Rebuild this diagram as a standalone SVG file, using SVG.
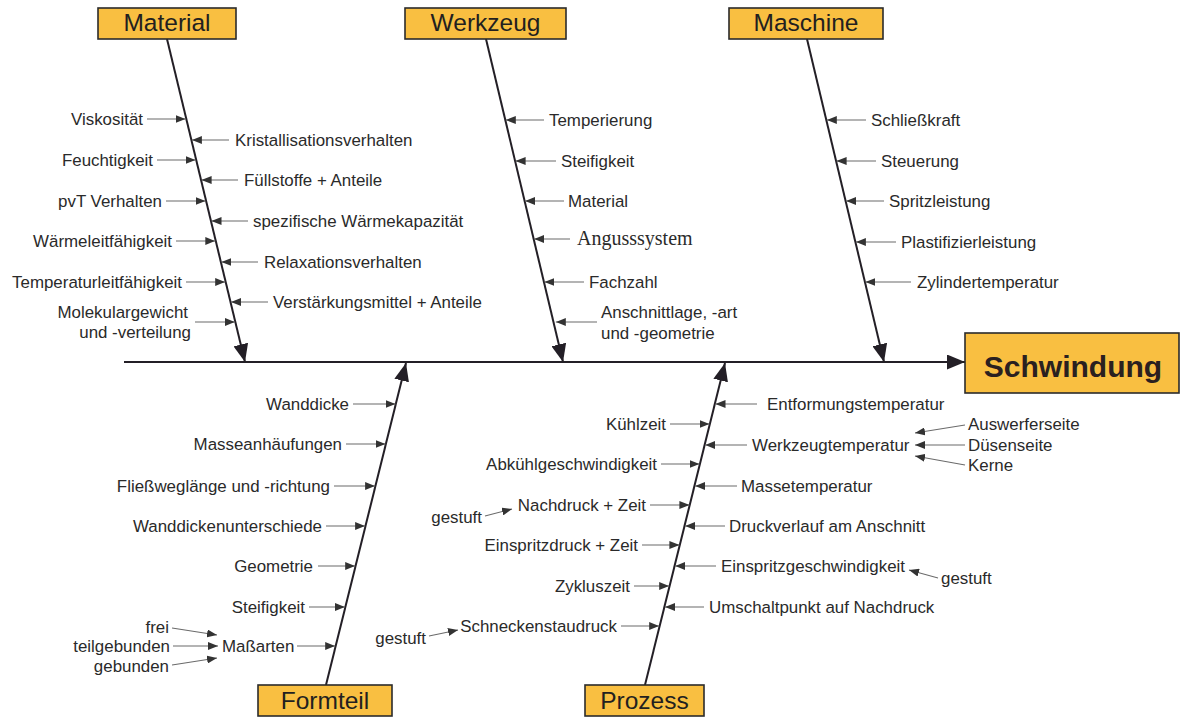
<svg xmlns="http://www.w3.org/2000/svg" width="1181" height="720" viewBox="0 0 1181 720">
  <style>
    .box { fill: #f9bf41; stroke: #2b2b2b; stroke-width: 1.6; }
    .cat { font-family: "Liberation Sans", Arial, sans-serif; font-size: 24.5px; fill: #231f20; text-anchor: middle; }
    .effect { font-family: "Liberation Sans", Arial, sans-serif; font-size: 30px; font-weight: bold; fill: #2a2020; text-anchor: middle; }
    .lbl { font-family: "Liberation Sans", Arial, sans-serif; font-size: 16.9px; fill: #2a2a2a; }
    .serif { font-family: "Liberation Serif", "Times New Roman", serif; font-size: 20px; fill: #2a2a2a; }
    .end { text-anchor: end; }
    .spine { stroke: #231f26; stroke-width: 2; fill: none; marker-end: url(#big); }
    .sub { stroke: #6a6a6a; stroke-width: 1.1; fill: none; marker-end: url(#small); }
  </style>
  <defs>
    <marker id="big" markerUnits="userSpaceOnUse" markerWidth="18" markerHeight="15" refX="18" refY="7.5" orient="auto">
      <path d="M0,0 L18,7.5 L0,15 z" fill="#231f26"/>
    </marker>
    <marker id="small" markerUnits="userSpaceOnUse" markerWidth="10" markerHeight="8" refX="10" refY="4" orient="auto">
      <path d="M0,0 L10,4 L0,8 z" fill="#333"/>
    </marker>
  </defs>

  <rect width="1181" height="720" fill="#ffffff"/>

  <!-- connectors: spines and factor arrows -->
  <g id="connectors">
    <line class="spine" x1="124" y1="362" x2="965" y2="362"/>
    <line class="spine" x1="167" y1="39" x2="245" y2="362"/>
    <line class="spine" x1="486" y1="39" x2="563" y2="362"/>
    <line class="spine" x1="807" y1="39" x2="884" y2="362"/>
    <line class="spine" x1="326" y1="685" x2="406" y2="363"/>
    <line class="spine" x1="645" y1="685" x2="725" y2="363"/>

    <!-- Material -->
    <line class="sub" x1="147" y1="119" x2="185.5" y2="119"/>
    <line class="sub" x1="157" y1="160" x2="195.5" y2="160"/>
    <line class="sub" x1="166" y1="201" x2="205.5" y2="201"/>
    <line class="sub" x1="176" y1="241" x2="215.3" y2="241"/>
    <line class="sub" x1="186" y1="282" x2="225.2" y2="282"/>
    <line class="sub" x1="195" y1="322" x2="234.8" y2="322"/>
    <line class="sub" x1="229" y1="140" x2="191.9" y2="140"/>
    <line class="sub" x1="238" y1="180" x2="201.6" y2="180"/>
    <line class="sub" x1="248" y1="221" x2="211.5" y2="221"/>
    <line class="sub" x1="258" y1="262" x2="221.4" y2="262"/>
    <line class="sub" x1="268" y1="302" x2="231" y2="302"/>

    <!-- Werkzeug -->
    <line class="sub" x1="544" y1="120" x2="505.8" y2="120"/>
    <line class="sub" x1="556" y1="161" x2="515.6" y2="161"/>
    <line class="sub" x1="564" y1="201" x2="525.1" y2="201"/>
    <line class="sub" x1="570" y1="239" x2="534.2" y2="239"/>
    <line class="sub" x1="584" y1="282" x2="544.4" y2="282"/>
    <line class="sub" x1="597" y1="322" x2="555.8" y2="322"/>

    <!-- Maschine -->
    <line class="sub" x1="866" y1="120" x2="826.8" y2="120"/>
    <line class="sub" x1="876" y1="161" x2="836.6" y2="161"/>
    <line class="sub" x1="884" y1="201" x2="846.1" y2="201"/>
    <line class="sub" x1="896" y1="242" x2="855.9" y2="242"/>
    <line class="sub" x1="911" y1="282" x2="865.4" y2="282"/>

    <!-- Formteil -->
    <line class="sub" x1="353" y1="404" x2="395.5" y2="404"/>
    <line class="sub" x1="346" y1="444" x2="385.5" y2="444"/>
    <line class="sub" x1="334" y1="486" x2="375.1" y2="486"/>
    <line class="sub" x1="326" y1="526" x2="365.1" y2="526"/>
    <line class="sub" x1="318" y1="566" x2="355.2" y2="566"/>
    <line class="sub" x1="309" y1="607" x2="344.9" y2="607"/>
    <line class="sub" x1="297" y1="646" x2="335.2" y2="646"/>
    <line class="sub" x1="172" y1="628" x2="217" y2="635"/>
    <line class="sub" x1="173" y1="646" x2="218" y2="646"/>
    <line class="sub" x1="172" y1="665" x2="217" y2="658"/>

    <!-- Prozess, left side -->
    <line class="sub" x1="670" y1="424" x2="709.5" y2="424"/>
    <line class="sub" x1="661" y1="464" x2="699.5" y2="464"/>
    <line class="sub" x1="650" y1="505" x2="689.4" y2="505"/>
    <line class="sub" x1="485" y1="516" x2="512" y2="509"/>
    <line class="sub" x1="642" y1="545" x2="679.4" y2="545"/>
    <line class="sub" x1="634" y1="586" x2="669.2" y2="586"/>
    <line class="sub" x1="621" y1="626" x2="659.2" y2="626"/>
    <line class="sub" x1="429" y1="636" x2="458" y2="630"/>

    <!-- Prozess, right side -->
    <line class="sub" x1="757" y1="404" x2="715.5" y2="404"/>
    <line class="sub" x1="747" y1="445" x2="705.3" y2="445"/>
    <line class="sub" x1="965" y1="425" x2="915" y2="433"/>
    <line class="sub" x1="965" y1="445" x2="915" y2="445"/>
    <line class="sub" x1="965" y1="465" x2="915" y2="456"/>
    <line class="sub" x1="737" y1="486" x2="695.1" y2="486"/>
    <line class="sub" x1="725" y1="526" x2="685.1" y2="526"/>
    <line class="sub" x1="716" y1="566" x2="675.2" y2="566"/>
    <line class="sub" x1="938" y1="578" x2="909" y2="570"/>
    <line class="sub" x1="704" y1="607" x2="665" y2="607"/>
  </g>

  <!-- effect -->
  <g id="schwindung">
    <rect class="box" x="965" y="333" width="214" height="60"/>
    <text class="effect" x="1073" y="377">Schwindung</text>
  </g>

  <!-- category boxes -->
  <g id="material">
    <rect class="box" x="98" y="8" width="138" height="31"/>
    <text class="cat" x="167" y="31">Material</text>
  </g>
  <g id="werkzeug">
    <rect class="box" x="405" y="8" width="161" height="31"/>
    <text class="cat" x="485.5" y="31">Werkzeug</text>
  </g>
  <g id="maschine">
    <rect class="box" x="729" y="8" width="154" height="31"/>
    <text class="cat" x="806" y="31">Maschine</text>
  </g>
  <g id="formteil">
    <rect class="box" x="258" y="685" width="134" height="31"/>
    <text class="cat" x="325" y="709">Formteil</text>
  </g>
  <g id="prozess">
    <rect class="box" x="585" y="685" width="119" height="31"/>
    <text class="cat" x="644.5" y="709">Prozess</text>
  </g>

  <!-- Material factors -->
  <g id="material-factors">
    <g id="m-viskositaet"><text class="lbl end" x="143" y="125">Viskosität</text></g>
    <g id="m-feuchtigkeit"><text class="lbl end" x="153" y="166">Feuchtigkeit</text></g>
    <g id="m-pvt"><text class="lbl end" x="162" y="207">pvT Verhalten</text></g>
    <g id="m-waermeleit"><text class="lbl end" x="172" y="247">Wärmeleitfähigkeit</text></g>
    <g id="m-temperaturleit"><text class="lbl end" x="182" y="288">Temperaturleitfähigkeit</text></g>
    <g id="m-molekular">
      <text class="lbl end" x="188" y="318">Molekulargewicht</text>
      <text class="lbl end" x="191" y="338">und -verteilung</text>
    </g>
    <g id="m-kristall"><text class="lbl" x="235" y="146">Kristallisationsverhalten</text></g>
    <g id="m-fuellstoffe"><text class="lbl" x="244" y="186">Füllstoffe + Anteile</text></g>
    <g id="m-waermekap"><text class="lbl" x="253" y="227">spezifische Wärmekapazität</text></g>
    <g id="m-relaxation"><text class="lbl" x="264" y="268">Relaxationsverhalten</text></g>
    <g id="m-verstaerkung"><text class="lbl" x="273" y="308">Verstärkungsmittel + Anteile</text></g>
  </g>

  <!-- Werkzeug factors -->
  <g id="werkzeug-factors">
    <g id="w-temperierung"><text class="lbl" x="549" y="126">Temperierung</text></g>
    <g id="w-steifigkeit"><text class="lbl" x="561" y="167">Steifigkeit</text></g>
    <g id="w-material"><text class="lbl" x="568" y="207">Material</text></g>
    <g id="w-anguss"><text class="serif" x="577" y="245">Angusssystem</text></g>
    <g id="w-fachzahl"><text class="lbl" x="589" y="288">Fachzahl</text></g>
    <g id="w-anschnitt">
      <text class="lbl" x="601" y="318">Anschnittlage, -art</text>
      <text class="lbl" x="601" y="339">und -geometrie</text>
    </g>
  </g>

  <!-- Maschine factors -->
  <g id="maschine-factors">
    <g id="ma-schliesskraft"><text class="lbl" x="871" y="126">Schließkraft</text></g>
    <g id="ma-steuerung"><text class="lbl" x="881" y="167">Steuerung</text></g>
    <g id="ma-spritzleistung"><text class="lbl" x="889" y="207">Spritzleistung</text></g>
    <g id="ma-plastifizier"><text class="lbl" x="901" y="248">Plastifizierleistung</text></g>
    <g id="ma-zylinder"><text class="lbl" x="917" y="288">Zylindertemperatur</text></g>
  </g>

  <!-- Formteil factors -->
  <g id="formteil-factors">
    <g id="f-wanddicke"><text class="lbl end" x="349" y="410">Wanddicke</text></g>
    <g id="f-masse"><text class="lbl end" x="342" y="450">Masseanhäufungen</text></g>
    <g id="f-fliessweg"><text class="lbl end" x="330" y="492">Fließweglänge und -richtung</text></g>
    <g id="f-wanddickenunt"><text class="lbl end" x="322" y="532">Wanddickenunterschiede</text></g>
    <g id="f-geometrie"><text class="lbl end" x="313" y="572">Geometrie</text></g>
    <g id="f-steifigkeit"><text class="lbl end" x="305" y="613">Steifigkeit</text></g>
    <g id="f-massarten"><text class="lbl" x="222" y="652">Maßarten</text></g>
    <g id="f-frei"><text class="lbl end" x="169" y="633">frei</text></g>
    <g id="f-teilgebunden"><text class="lbl end" x="170" y="652">teilgebunden</text></g>
    <g id="f-gebunden"><text class="lbl end" x="169" y="672">gebunden</text></g>
  </g>

  <!-- Prozess factors -->
  <g id="prozess-factors">
    <g id="p-kuehlzeit"><text class="lbl end" x="666" y="430">Kühlzeit</text></g>
    <g id="p-abkuehl"><text class="lbl end" x="657" y="470">Abkühlgeschwindigkeit</text></g>
    <g id="p-nachdruck"><text class="lbl end" x="646" y="511">Nachdruck + Zeit</text></g>
    <g id="p-nachdruck-gestuft"><text class="lbl end" x="482" y="523">gestuft</text></g>
    <g id="p-einspritzdruck"><text class="lbl end" x="638" y="551">Einspritzdruck + Zeit</text></g>
    <g id="p-zykluszeit"><text class="lbl end" x="630" y="592">Zykluszeit</text></g>
    <g id="p-schnecke"><text class="lbl end" x="617" y="632">Schneckenstaudruck</text></g>
    <g id="p-schnecke-gestuft"><text class="lbl end" x="426" y="644">gestuft</text></g>
    <g id="p-entformung"><text class="lbl" x="767" y="410">Entformungstemperatur</text></g>
    <g id="p-werkzeugtemp"><text class="lbl" x="752" y="451">Werkzeugtemperatur</text></g>
    <g id="p-auswerfer"><text class="lbl" x="968" y="430">Auswerferseite</text></g>
    <g id="p-duese"><text class="lbl" x="968" y="451">Düsenseite</text></g>
    <g id="p-kerne"><text class="lbl" x="968" y="471">Kerne</text></g>
    <g id="p-massetemp"><text class="lbl" x="741" y="492">Massetemperatur</text></g>
    <g id="p-druckverlauf"><text class="lbl" x="729" y="532">Druckverlauf am Anschnitt</text></g>
    <g id="p-einspritzgeschw"><text class="lbl" x="721" y="572">Einspritzgeschwindigkeit</text></g>
    <g id="p-einspritz-gestuft"><text class="lbl" x="941" y="584">gestuft</text></g>
    <g id="p-umschalt"><text class="lbl" x="709" y="613">Umschaltpunkt auf Nachdruck</text></g>
  </g>
</svg>
